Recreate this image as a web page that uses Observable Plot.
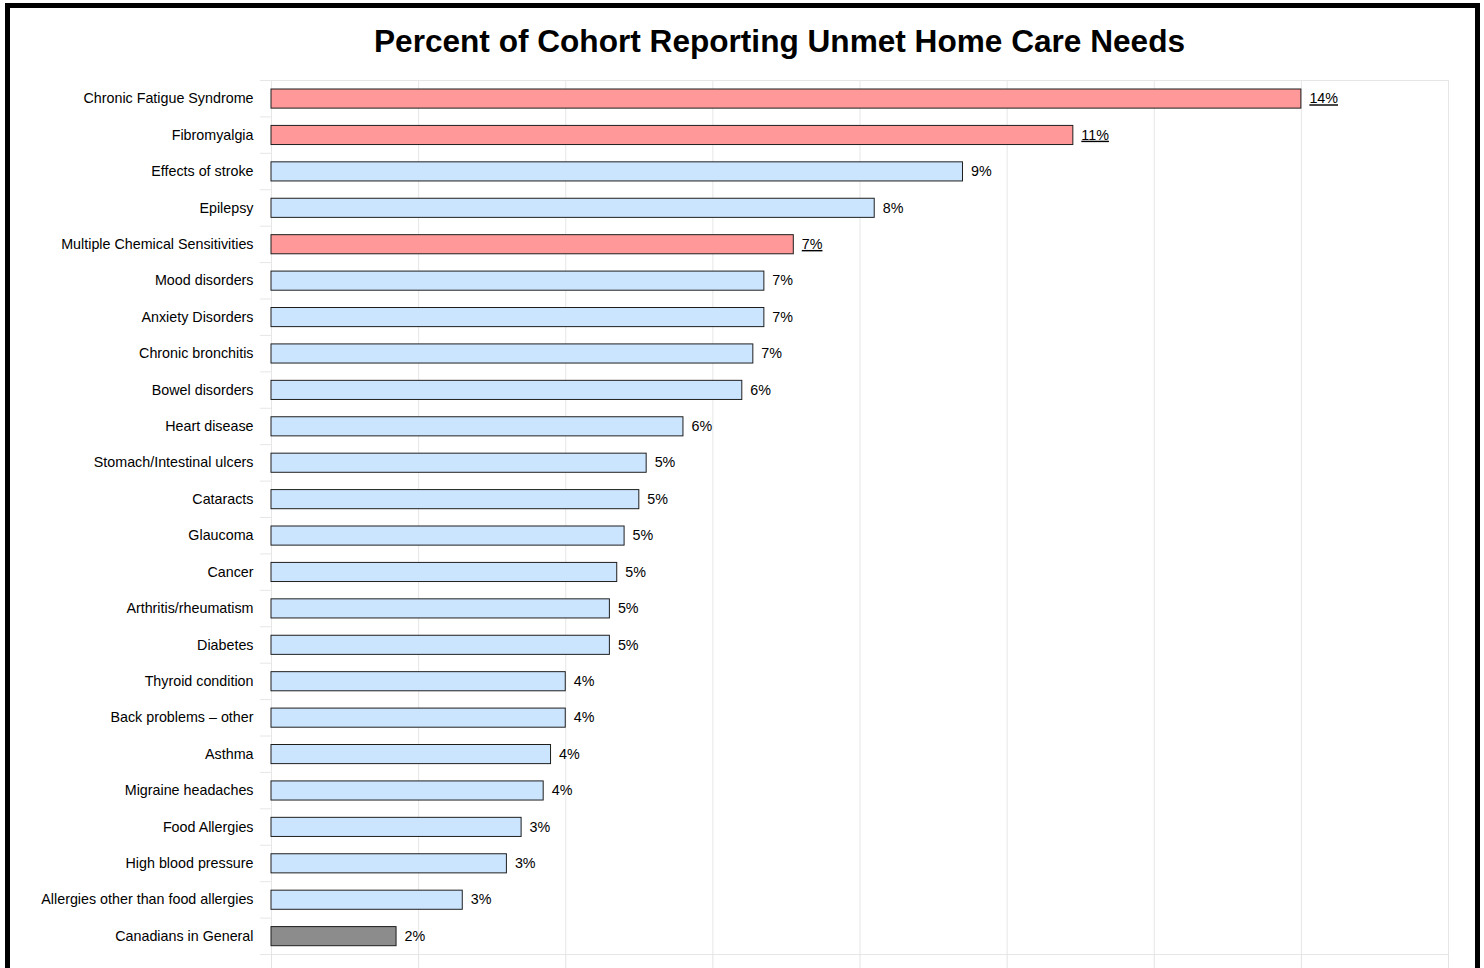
<!DOCTYPE html>
<html>
<head>
<meta charset="utf-8">
<script src="https://cdn.jsdelivr.net/npm/d3@7"></script>
<script src="https://cdn.jsdelivr.net/npm/@observablehq/plot@0.6"></script>
<style>
  body { margin: 0; background: #fff; }
  #wrap { position: relative; width: 1484px; height: 968px; overflow: hidden; background: #fff; font-family: "Liberation Sans", Arial, sans-serif; }
  #border { position: absolute; left: 5px; top: 3px; width: 1475px; height: 1100px; border: 5px solid #000; box-sizing: border-box; pointer-events: none; }
  #title { height: 70px; box-sizing: border-box; padding-left: 75px; padding-top: 23px; text-align: center; font-weight: bold; font-size: 31.6px; line-height: 36px; color: #000; }
  #chart svg { display: block; }
</style>
</head>
<body>
<div id="wrap">
  <div id="border"></div>
  <div id="title">Percent of Cohort Reporting Unmet Home Care Needs</div>
  <div id="chart"></div>
</div>
<script>
const categories = [
  "Chronic Fatigue Syndrome", "Fibromyalgia", "Effects of stroke", "Epilepsy",
  "Multiple Chemical Sensitivities", "Mood disorders", "Anxiety Disorders", "Chronic bronchitis",
  "Bowel disorders", "Heart disease", "Stomach/Intestinal ulcers", "Cataracts",
  "Glaucoma", "Cancer", "Arthritis/rheumatism", "Diabetes",
  "Thyroid condition", "Back problems – other", "Asthma", "Migraine headaches",
  "Food Allergies", "High blood pressure", "Allergies other than food allergies", "Canadians in General"
];
const values = [
  14.0, 10.9, 9.4, 8.2,
  7.1, 6.7, 6.7, 6.55,
  6.4, 5.6, 5.1, 5.0,
  4.8, 4.7, 4.6, 4.6,
  4.0, 4.0, 3.8, 3.7,
  3.4, 3.2, 2.6, 1.7
];
const valueLabels = [
  "14%", "11%", "9%", "8%",
  "7%", "7%", "7%", "7%",
  "6%", "6%", "5%", "5%",
  "5%", "5%", "5%", "5%",
  "4%", "4%", "4%", "4%",
  "3%", "3%", "3%", "2%"
];
const groups = [
  "environmental", "environmental", "other", "other",
  "environmental", "other", "other", "other",
  "other", "other", "other", "other",
  "other", "other", "other", "other",
  "other", "other", "other", "other",
  "other", "other", "other", "general"
];
const groupNames = ["environmental", "other", "general"];
const groupColors = ["#ff9999", "#cce5ff", "#8c8c8c"];
const xTicks = [0, 2, 4, 6, 8, 10, 12, 14, 16];

const data = categories.map((name, i) => ({name, value: values[i], label: valueLabels[i], group: groups[i]}));
const highlighted = data.filter(d => d.group === "environmental");
const rest = data.filter(d => d.group !== "environmental");

const plotH = 898, mT = 10, mB = 14;
const step = (plotH - mT - mB) / categories.length;
const fs = 14.3;

const chart = Plot.plot({
  width: 1484,
  height: plotH,
  marginTop: mT,
  marginBottom: mB,
  marginLeft: 271,
  marginRight: 36,
  style: {fontFamily: "'Liberation Sans', Arial, sans-serif", fontSize: fs + "px", color: "#000", background: "#fff"},
  x: {domain: [0, 16], label: null},
  y: {domain: categories, padding: 0, round: false, label: null},
  color: {domain: groupNames, range: groupColors},
  marks: [
    Plot.gridX(xTicks, {stroke: "#e6e6e6", strokeOpacity: 1}),
    Plot.frame({stroke: "#e6e6e6"}),
    Plot.axisX(xTicks, {anchor: "bottom", tickSize: 14, tickFormat: () => "", stroke: "#e3e3e3", label: null}),
    Plot.ruleY(categories, {y: d => d, x1: -0.15, x2: 0, dy: -step / 2, stroke: "#e6e6e6"}),
    Plot.ruleY([categories[categories.length - 1]], {y: d => d, x1: -0.15, x2: 0, dy: step / 2, stroke: "#e6e6e6"}),
    Plot.axisY({anchor: "left", tickSize: 0, tickPadding: 18, fontSize: fs, label: null}),
    Plot.barX(data, {x: "value", y: "name", fill: "group", stroke: "#1e1e1e", strokeWidth: 1, insetTop: 9, insetBottom: 8.3}),
    Plot.text(rest, {x: "value", y: "name", text: "label", dx: 8, textAnchor: "start", fontSize: fs, fill: "#000000"}),
    Plot.text(highlighted, {x: "value", y: "name", text: "label", dx: 8, textAnchor: "start", fontSize: fs, fill: "#000001"})
  ]
});
document.getElementById("chart").appendChild(chart);
d3.select(chart).selectAll('g[fill="#000001"] text').style("text-decoration", "underline");
</script>
</body>
</html>
